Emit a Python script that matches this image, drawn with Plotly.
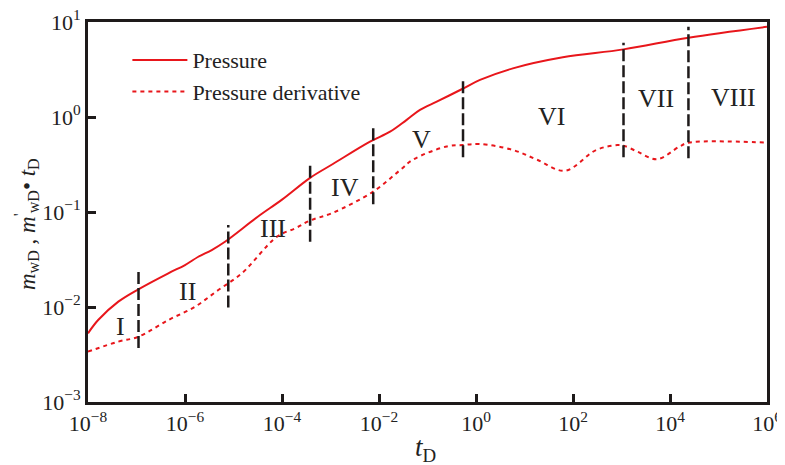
import plotly.graph_objects as go

# ---- data ----
p_t = [1e-8, 1.62e-8, 4.22e-8, 1.09e-7, 4.53e-7, 1e-6, 1.88e-6, 3.56e-6, 6.68e-6, 3.16e-5, 1e-4,
       3.8e-4, 1.12e-3, 6.52e-3, 1.69e-2, 3.72e-2, 7.0e-2, 0.155, 0.507, 1.21, 5.75, 61.7, 1100, 2.4e4, 1e6]
p_val = [0.00528, 0.00729, 0.01138, 0.01535, 0.02265, 0.02767, 0.0338, 0.0398, 0.0486, 0.0891, 0.135,
         0.229, 0.320, 0.550, 0.700, 0.933, 1.186, 1.449, 1.959, 2.455, 3.25, 4.25, 5.15, 6.84, 8.91]

d_t = [1e-8, 4.22e-8, 1.09e-7, 4.53e-7, 1.61e-6, 4.86e-6, 1.48e-5, 7.9e-5, 1.9e-4, 3.8e-4, 1.1e-3,
       7.6e-3, 2.7e-2, 5e-2, 0.25, 0.54, 1.2, 5.75, 18.2, 68, 302, 832, 1100, 2140, 5370, 1.58e4, 2.4e4, 1e6]
d_val = [0.00339, 0.00432, 0.00486, 0.00729, 0.01007, 0.0151, 0.0226, 0.055, 0.0676, 0.0813, 0.0977,
         0.164, 0.275, 0.355, 0.490, 0.507, 0.520, 0.450, 0.355, 0.272, 0.450, 0.507, 0.500, 0.432, 0.359,
         0.490, 0.537, 0.537]

bound_t = [1.1e-7, 7.8e-6, 3.8e-4, 7.6e-3, 0.54, 1100, 2.4e4]
bound_low = [0.0037, 0.0099, 0.0486, 0.121, 0.377, 0.377, 0.367]
bound_high = [0.0234, 0.0730, 0.318, 0.791, 2.39, 6.05, 8.91]

region_names = ["I", "II", "III", "IV", "V", "VI", "VII", "VIII"]
region_logt = [-7.34, -5.94, -4.19, -2.70, -1.13, 1.55, 3.71, 5.30]
region_logy = [-2.21, -1.84, -1.17, -0.74, -0.24, 0.01, 0.20, 0.21]

x_tickvals = [1e-8, 1e-6, 1e-4, 1e-2, 1e0, 1e2, 1e4, 1e6]
x_ticktext = ["10<sup>−8</sup>", "10<sup>−6</sup>", "10<sup>−4</sup>", "10<sup>−2</sup>",
              "10<sup>0</sup>", "10<sup>2</sup>", "10<sup>4</sup>", "10<sup>6</sup>"]
y_tickvals = [1e-3, 1e-2, 1e-1, 1e0, 1e1]
y_ticktext = ["10<sup>−3</sup>", "10<sup>−2</sup>", "10<sup>−1</sup>", "10<sup>0</sup>", "10<sup>1</sup>"]

RED = "#e8161b"
INK = "#1e1a1a"
SERIF = "Liberation Serif, Times New Roman, serif"

fig = go.Figure()
fig.add_trace(go.Scatter(x=p_t, y=p_val, mode="lines", name="Pressure",
                         line=dict(color=RED, width=2, shape="spline", smoothing=1.0)))
fig.add_trace(go.Scatter(x=d_t, y=d_val, mode="lines", name="Pressure derivative",
                         line=dict(color=RED, width=2, dash="4px,4px", shape="spline", smoothing=1.0)))
for t, lo, hi in zip(bound_t, bound_low, bound_high):
    fig.add_trace(go.Scatter(x=[t, t], y=[lo, hi], mode="lines", showlegend=False,
                             line=dict(color=INK, width=2.5, dash="12px,4px")))

for name, lx, ly in zip(region_names, region_logt, region_logy):
    fig.add_annotation(x=lx, y=ly, text=name, showarrow=False,
                       font=dict(family=SERIF, size=26, color="#222"))

# axis titles
fig.add_annotation(xref="paper", yref="paper", x=(425 - 88) / 679, y=-(449 - 402) / 380,
                   text="<i>t</i><sub>D</sub>", showarrow=False, xanchor="center", yanchor="middle",
                   font=dict(family=SERIF, size=27, color="#222"))
fig.add_annotation(xref="paper", yref="paper", x=-(88 - 26) / 679, y=(402 - 224) / 380,
                   text="<i>m</i><sub>wD</sub> , <i>m</i><sup>'</sup><sub>wD</sub>• <i>t</i><sub>D</sub>",
                   showarrow=False, textangle=-90, xanchor="center", yanchor="middle",
                   font=dict(family=SERIF, size=23, color="#222"))

fig.update_layout(
    width=777, height=457,
    margin=dict(l=80, r=18, t=14, b=63),
    paper_bgcolor="white", plot_bgcolor="white",
    font=dict(family=SERIF, color="#222"),
    legend=dict(x=0.058, y=0.955, xanchor="left", yanchor="top", bgcolor="rgba(0,0,0,0)",
                font=dict(family=SERIF, size=22, color="#222"), tracegroupgap=0,
                itemwidth=55),
    showlegend=True,
)
fig.update_xaxes(type="log", range=[-8, 6], tickvals=x_tickvals, ticktext=x_ticktext,
                 ticks="inside", ticklen=8, tickwidth=2.5, tickcolor=INK,
                 showline=True, linewidth=3, linecolor=INK, mirror=True,
                 showgrid=False, zeroline=False, automargin=False, ticklabeloverflow="allow",
                 tickfont=dict(family=SERIF, size=22, color="#222"))
fig.update_yaxes(type="log", range=[-3, 1], tickvals=y_tickvals, ticktext=y_ticktext,
                 ticks="inside", ticklen=8, tickwidth=2.5, tickcolor=INK,
                 showline=True, linewidth=3, linecolor=INK, mirror=True,
                 showgrid=False, zeroline=False, automargin=False, ticklabeloverflow="allow",
                 tickfont=dict(family=SERIF, size=22, color="#222"))

fig.write_html("out.html")
